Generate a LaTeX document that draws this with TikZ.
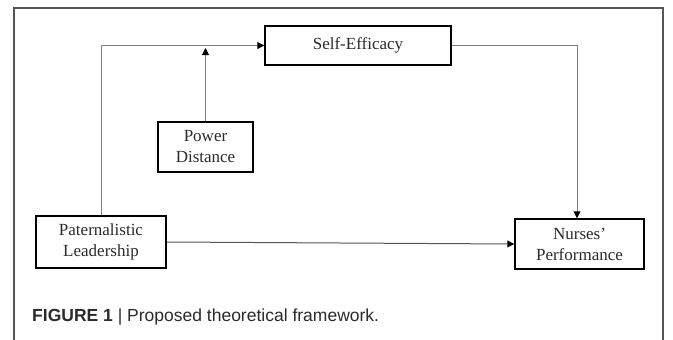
\documentclass[tikz,border=0pt]{standalone}
\usepackage{fontspec}
\setmainfont{Liberation Serif}
\newfontfamily\capfont{Liberation Sans}
\usetikzlibrary{arrows.meta}
\definecolor{txt}{HTML}{2A2A2A}
\definecolor{conn}{HTML}{808080}
\definecolor{frame}{HTML}{555555}
\begin{document}
\begin{tikzpicture}[x=1pt,y=-1pt,
  box/.style={draw=black,line width=1.4pt,minimum width=#1,inner sep=0pt,align=center,text=txt,
    font=\fontsize{17}{21}\selectfont},
  conn/.style={draw=conn,line width=1pt,-{Triangle[length=7pt,width=7pt]},arrows={[color=black]}},
]
\useasboundingbox (0,0) rectangle (673,340);
\draw[frame,line width=1.2pt] (14,340) -- (14,8) -- (663,8) -- (663,340);
\node[box=186pt,minimum height=39pt] (self) at (358,45.5) {Self-Efficacy};
\node[box=95pt,minimum height=50pt] (pd) at (205.5,147) {Power\\Distance};
\node[box=130pt,minimum height=52pt] (pl) at (101,242) {Paternalistic\\Leadership};
\node[box=129pt,minimum height=50pt] (np) at (579.5,244) {Nurses'\\Performance};
\coordinate (pdtip) at (205.5,48);
\coordinate (turn) at (577,47);
\draw[conn] (pl.north) |- (self.west);
\draw[conn] (pd.north) -- (pdtip);
\draw[conn] (self.east) -- (self.east -| turn) -- (turn |- np.north);
\draw[conn,draw=frame] (pl.east) -- (np.west);
\node[anchor=base west,inner sep=0pt,text=txt,font=\capfont\fontsize{17.5}{20}\selectfont] (cap) at (32,321)
  {\textbf{FIGURE 1} | Proposed theoretical framework.};
\end{tikzpicture}
\end{document}
